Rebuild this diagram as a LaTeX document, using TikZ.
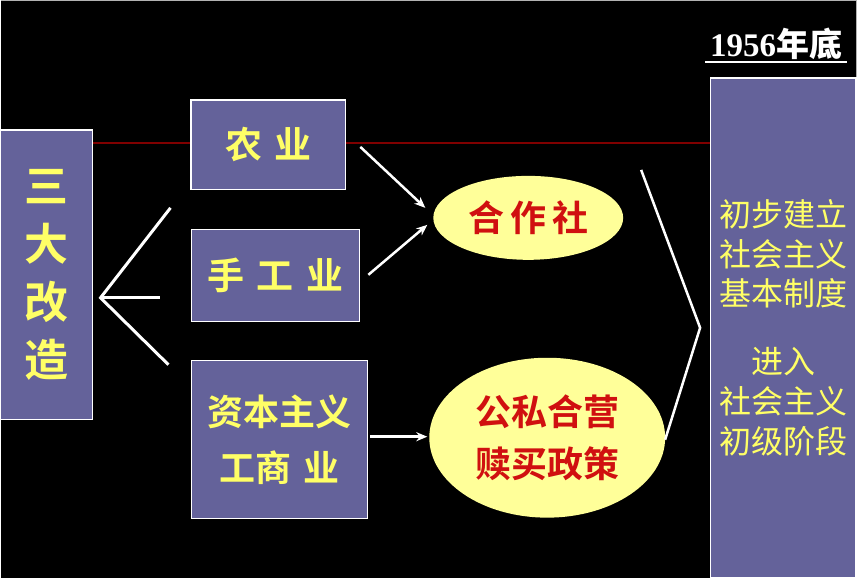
\documentclass[tikz,border=0pt]{standalone}
\usepackage{fontspec}
\newfontfamily\cjk{Noto Sans CJK SC}[BoldFont={Noto Sans CJK SC Bold}]
\newfontfamily\cjkserif{Noto Sans CJK SC}
\setmainfont{Liberation Serif}
\usetikzlibrary{arrows.meta,shapes.geometric}
\definecolor{pb}{HTML}{64629A}
\definecolor{yt}{HTML}{FFFF66}
\definecolor{ef}{HTML}{FFFF99}
\definecolor{rt}{HTML}{D01010}
\begin{document}
\begin{tikzpicture}[x=1pt,y=-1pt,
 box/.style={draw=white,line width=1.2pt,fill=pb,text=yt,font=\cjk\bfseries,align=center,inner sep=0pt},
 ell/.style={ellipse,fill=ef,text=rt,font=\cjk\bfseries,align=center,inner sep=0pt},
 ln/.style={white,line width=3pt},
 ar/.style={white,line width=2.5pt,-{Stealth[length=11pt,width=9pt]}}]
\fill[black] (0,0) rectangle (857,578);
\draw[gray!60,line width=1pt] (0,0.5) -- (856.5,0.5) -- (856.5,578);
\draw[red!50!black,line width=1.5pt] (92,143) -- (710,143);
\node[box,minimum width=92pt,minimum height=290pt,font=\cjk\bfseries\fontsize{44}{58}\selectfont] (L) at (46,275) {三\\大\\改\\造};
\node[box,minimum width=155pt,minimum height=90pt,font=\cjk\bfseries\fontsize{37}{44}\selectfont] (A) at (268,145) {农\,\,业};
\node[box,minimum width=168pt,minimum height=92pt,font=\cjk\bfseries\fontsize{37}{44}\selectfont] (B) at (275,276) {手\,\,工\,\,业};
\node[box,minimum width=176pt,minimum height=158pt,font=\cjk\bfseries\fontsize{36}{56}\selectfont] (C) at (279,440) {资本主义\\工商\,\,业};
\node[box,minimum width=146pt,minimum height=500pt,font=\cjk\fontsize{32}{40}\selectfont] (R) at (783,328) {初步建立\\社会主义\\基本制度\\[28pt]进入\\社会主义\\初级阶段};
\node[ell,minimum width=190pt,minimum height=84pt,font=\cjk\bfseries\fontsize{36}{44}\selectfont] (E1) at (528,218) {合\,作\,社};
\node[ell,minimum width=236pt,minimum height=160pt,font=\cjk\bfseries\fontsize{36}{52}\selectfont] (E2) at (547,438) {公私合营\\赎买政策};
\node[text=white,font=\bfseries\fontsize{33}{36}\selectfont,inner sep=0pt] (T) at (776,44) {1956\cjkserif 年底};
\draw[white,line width=1.8pt] (705,62) -- (847,62);
\coordinate (F) at (100,298);
\draw[ln] (170,208) -- (F) -- (168,365);
\draw[ln] (F) -- (160,298);
\draw[ar] (360,147) -- (425,208);
\draw[ar] (368,275) -- (427,225);
\draw[ar] (370,437) -- (427,437);
\draw[ln,line width=2.5pt] (641,170) -- (700,328) -- (665,440);
\end{tikzpicture}
\end{document}
